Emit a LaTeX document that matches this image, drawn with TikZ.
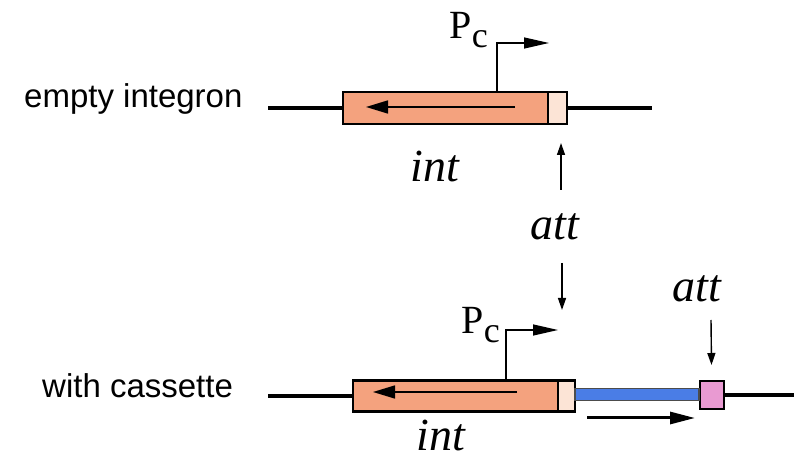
\documentclass[tikz,border=0pt]{standalone}
\usepackage{fontspec}
\setmainfont{Liberation Serif}
\setsansfont{Liberation Sans}
\usetikzlibrary{arrows.meta}
\definecolor{geneor}{HTML}{F4A27E}
\definecolor{palebox}{HTML}{FCE4D6}
\definecolor{cassblue}{HTML}{4A7DE6}
\definecolor{attpink}{HTML}{E99AD2}
\tikzset{
  dna/.style={line width=4.5pt, black},
  genebox/.style={draw=black, line width=2.6pt, fill=geneor, minimum width=205pt, minimum height=32pt, inner sep=0pt},
  attsite/.style={draw=black, line width=2.6pt, fill=palebox, minimum width=19pt, minimum height=32pt, inner sep=0pt},
  cassbar/.style={draw=black!70, line width=1.2pt, fill=cassblue, minimum height=12pt, inner sep=0pt},
  pinkbox/.style={draw=black, line width=2pt, fill=attpink, minimum width=24pt, minimum height=28pt, inner sep=0pt},
  inarrow/.style={line width=1.6pt, -{Triangle[length=22pt,width=13pt]}},
  promarrow/.style={line width=1.3pt, -{Triangle[length=25pt,width=11pt]}},
  thinarrow/.style={line width=1.4pt, -{Triangle[length=12pt,width=8pt]}},
  fwdarrow/.style={line width=3pt, -{Triangle[length=25pt,width=12pt]}},
  lab/.style={font=\sffamily\fontsize{33}{36}\selectfont, inner sep=0pt},
  gname/.style={font=\itshape\fontsize{46}{50}\selectfont, inner sep=0pt},
  bigP/.style={anchor=base west, inner sep=0pt, font=\fontsize{40}{44}\selectfont},
  subc/.style={anchor=base west, inner sep=0pt, font=\fontsize{36}{40}\selectfont},
}
\begin{document}
\begin{tikzpicture}[x=1pt,y=1pt]
\useasboundingbox (0,0) rectangle (794,460);
% ---------- top: empty integron ----------
\coordinate (L1) at (268,352);
\coordinate (R1) at (652,352);
\node[genebox] (int1) at (445.5,352) {};
\node[attsite] (att1) at (557.5,352) {};
\draw[dna] (L1) -- (int1.west);
\draw[dna] (att1.east) -- (R1);
\coordinate (a1s) at (515,353);
\coordinate (a1e) at (366,353);
\draw[inarrow] (a1s) -- (a1e);
\coordinate (p1b) at (497,368);
\coordinate (p1t) at (549,417);
\draw[promarrow] (p1b) |- (p1t);
\node[bigP] (P1) at (449,421) {P};
\node[subc] (c1) at (P1.base east) [yshift=-9pt] {c};
\node[lab, anchor=base west] (lab1) at (24,352) {empty integron};
\node[gname, anchor=base] (int1lab) at (435,278) {int};
% ---------- middle att ----------
\node[gname, anchor=base] (attmid) at (555,220) {att};
\coordinate (up0) at (561,270);
\coordinate (up1) at (561,317);
\draw[thinarrow] (up0) -- (up1);
\coordinate (dn0) at (562,197);
\coordinate (dn1) at (562,150);
\draw[thinarrow] (dn0) -- (dn1);
% ---------- bottom: with cassette ----------
\coordinate (L2) at (268,64);
\coordinate (R2) at (794,65);
\node[genebox, minimum height=31pt] (int2) at (455.5,64) {};
\node[attsite, minimum height=31pt, minimum width=17pt] (att2) at (566.5,64) {};
\node[pinkbox] (pink) at (711.5,65) {};
\node[cassbar, minimum width=124pt] (cass) at (637,65.5) {};
\draw[dna] (L2) -- (int2.west);
\draw[dna] (pink.east) -- (R2);
\coordinate (a2s) at (517,68);
\coordinate (a2e) at (373,68);
\draw[inarrow] (a2s) -- (a2e);
\coordinate (p2b) at (506,80);
\coordinate (p2t) at (558,130);
\draw[promarrow] (p2b) |- (p2t);
\node[bigP] (P2) at (461,126) {P};
\node[subc] (c2) at (P2.base east) [yshift=-9pt] {c};
\node[lab, anchor=base west] (lab2) at (42,62) {with cassette};
\node[gname, anchor=base] (int2lab) at (441,10) {int};
\coordinate (f0) at (587,42);
\coordinate (f1) at (695,42);
\draw[fwdarrow] (f0) -- (f1);
\node[gname, anchor=base] (attright) at (697,158) {att};
\coordinate (dr0) at (711,140);
\draw[thinarrow] (dr0) -- (pink.north |- 0,95);
\end{tikzpicture}
\end{document}
